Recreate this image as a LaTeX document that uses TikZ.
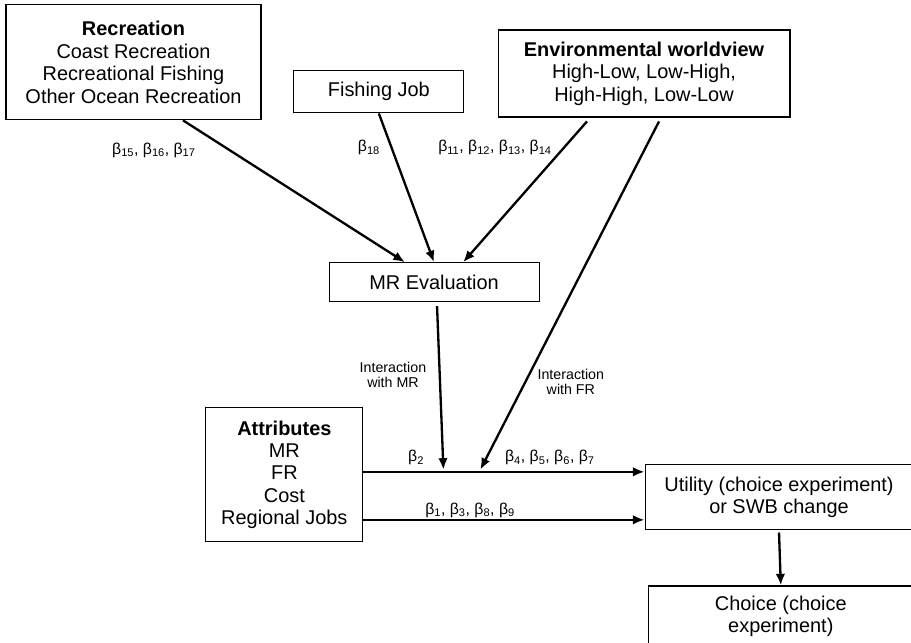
\documentclass[tikz,border=0pt]{standalone}
\usepackage{fontspec}
\setmainfont{Liberation Sans}
\usepackage{tikz}
\usetikzlibrary{calc,arrows.meta}

\newcommand{\bsub}[1]{β\textsubscript{#1}}

\begin{document}
\begin{tikzpicture}[
  box/.style={draw, line width=1pt, align=center, inner sep=0pt, font=\fontsize{18.9}{21.3}\selectfont},
  lbl/.style={align=center, inner sep=0pt, font=\fontsize{13.5}{14.5}\selectfont},
  coef/.style={inner sep=0pt, font=\fontsize{15}{16}\selectfont},
  arr/.style={line width=2.2pt, -{Latex[length=11pt,width=9pt]}}
]

%Frame
\clip (0,0) rectangle (30.37,21.43);

%Boxes
\node[box, minimum width=8.5cm, minimum height=3.83cm] (rec) at (4.45,19.35) {\textbf{Recreation}\\Coast Recreation\\Recreational Fishing\\Other Ocean Recreation};
\node[box, minimum width=5.67cm, minimum height=1.43cm] (fish) at (12.63,18.38) {Fishing Job};
\node[box, minimum width=9.73cm, minimum height=2.9cm] (env) at (21.47,18.98) {\textbf{Environmental worldview}\\High-Low, Low-High,\\High-High, Low-Low};
\node[box, minimum width=7cm, minimum height=1.3cm] (mr) at (14.47,12.02) {MR Evaluation};
\node[box, minimum width=5.23cm, minimum height=4.47cm] (attr) at (9.48,5.6) {\textbf{Attributes}\\MR\\FR\\Cost\\Regional Jobs};
\node[box, minimum width=8.93cm, minimum height=2.17cm] (util) at (25.97,4.85) {Utility (choice experiment)\\or SWB change};
\node[box, minimum width=8.8cm, minimum height=2.03cm] (choice) at (26.03,0.88) {Choice (choice\\experiment)};

%Junctions on the attribute line
\coordinate (jmr) at ($(attr.east)+(2.67,0.17)$);
\coordinate (jfr) at ($(attr.east)+(3.9,0.17)$);

%Arrows
\draw[arr] ([xshift=1.65cm]rec.south) -- ([xshift=-0.97cm]mr.north);
\draw[arr] (fish.south) -- (mr.north);
\draw[arr] ([xshift=-1.9cm,yshift=-0.13cm]env.south) -- ([xshift=0.97cm]mr.north);
\draw[arr] ([xshift=0.5cm,yshift=-0.13cm]env.south) -- (jfr);
\draw[arr] ([xshift=0.1cm,yshift=-0.13cm]mr.south) -- (jmr);
\draw[arr] ([yshift=0.1cm]attr.east) -- ([yshift=0.1cm]attr.east -| util.west);
\draw[arr] ([yshift=-1.5cm]attr.east) -- ([yshift=-1.5cm]attr.east -| util.west);
\draw[arr] ([yshift=-0.07cm]util.south) -- (choice.north);

%Labels
\node[coef] (l-rec) at (5.13,16.43) {\bsub{15}, \bsub{16}, \bsub{17}};
\node[coef] (l-fish) at (12.3,16.5) {\bsub{18}};
\node[coef] (l-env) at (16.5,16.5) {\bsub{11}, \bsub{12}, \bsub{13}, \bsub{14}};
\node[lbl] (l-imr) at (13.1,8.93) {Interaction\\with MR};
\node[lbl] (l-ifr) at (19.03,8.7) {Interaction\\with FR};
\node[coef] (l-b2) at (13.87,6.17) {\bsub{2}};
\node[coef] (l-b4) at (18.33,6.17) {\bsub{4}, \bsub{5}, \bsub{6}, \bsub{7}};
\node[coef] (l-b1) at (15.67,4.43) {\bsub{1}, \bsub{3}, \bsub{8}, \bsub{9}};

\end{tikzpicture}
\end{document}
